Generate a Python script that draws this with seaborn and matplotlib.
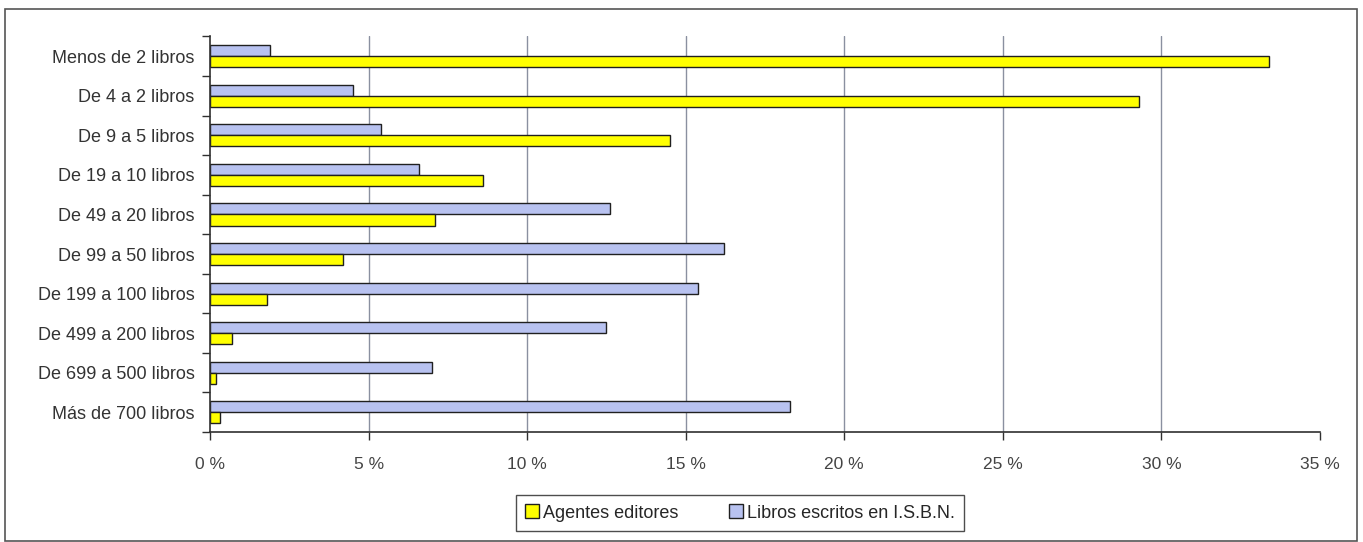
import pandas as pd
import numpy as np
import matplotlib
matplotlib.use("Agg")
import matplotlib.pyplot as plt
import seaborn as sns
from matplotlib.patches import Rectangle, Patch
from matplotlib.ticker import FixedLocator, FuncFormatter

# Datos (porcentaje)
categorias = ["Menos de 2 libros", "De 4 a 2 libros", "De 9 a 5 libros", "De 19 a 10 libros",
              "De 49 a 20 libros", "De 99 a 50 libros", "De 199 a 100 libros",
              "De 499 a 200 libros", "De 699 a 500 libros", "Más de 700 libros"]
agentes_editores = [33.4, 29.3, 14.5, 8.6, 7.1, 4.2, 1.8, 0.7, 0.2, 0.3]
libros_isbn = [1.9, 4.5, 5.4, 6.6, 12.6, 16.2, 15.4, 12.5, 7.0, 18.3]
series = ["Agentes editores", "Libros escritos en I.S.B.N."]
ticks_x = [0, 5, 10, 15, 20, 25, 30, 35]

df = pd.DataFrame({
    "categoria": categorias * 2,
    "valor": libros_isbn + agentes_editores,
    "serie": [series[1]] * len(categorias) + [series[0]] * len(categorias),
})

sns.set_style("white")
plt.rcParams["font.family"] = ["Liberation Sans", "DejaVu Sans"]

colores = {series[0]: "#ffff00", series[1]: "#b8c2f0"}

fig = plt.figure(figsize=(13.63, 5.42), dpi=100)
ax = fig.add_axes([210 / 1363, 1 - 432 / 542, 1110 / 1363, 395.5 / 542])

sns.barplot(data=df, y="categoria", x="valor", hue="serie", orient="h",
            hue_order=[series[1], series[0]], palette=colores, width=0.56,
            edgecolor="#202020", linewidth=1.0, saturation=1, ax=ax, legend=False)

ax.set_xlim(0, 35)
ax.set_ylim(len(categorias) - 0.5, -0.5)
ax.xaxis.set_major_locator(FixedLocator(ticks_x))
ax.xaxis.set_major_formatter(FuncFormatter(lambda v, p: f"{v:.0f} %"))
ax.grid(axis="x", color="#8a90a0", linewidth=1.0)
ax.set_axisbelow(True)
ax.set_xlabel("")
ax.set_ylabel("")
# sin linea de rejilla en el 0 % ni en el 35 %
gl = ax.get_xgridlines()
gl[0].set_visible(False)
gl[-1].set_visible(False)

for s in ["top", "right"]:
    ax.spines[s].set_visible(False)
for s in ["left", "bottom"]:
    ax.spines[s].set_color("#303030")
    ax.spines[s].set_linewidth(1.2)

# Marcas del eje y entre categorias
ax.yaxis.set_minor_locator(FixedLocator(np.arange(-0.5, len(categorias), 1)))
ax.tick_params(axis="y", which="major", length=0, labelsize=13, colors="#333333", pad=11)
ax.tick_params(axis="y", which="minor", length=6, width=1.0, color="#303030", left=True)
ax.tick_params(axis="x", which="major", length=6, width=1.0, color="#303030", labelsize=12.5,
               labelcolor="#444444", pad=12, bottom=True)

handles = [Patch(facecolor=colores[s], edgecolor="#202020", label=s) for s in series]
leg = fig.legend(handles=handles, loc="center", bbox_to_anchor=(740 / 1363, 1 - 513 / 542),
                 ncol=2, frameon=True, fancybox=False, edgecolor="#202020", fontsize=13,
                 handlelength=0.8, handleheight=0.8, handletextpad=0.2, columnspacing=2.8,
                 borderpad=0.5)
leg.get_frame().set_linewidth(1.0)

fig.patches.append(Rectangle((5 / 1363, 1 / 542), 1352 / 1363, 532 / 542, transform=fig.transFigure,
                             fill=False, edgecolor="#555555", linewidth=1.2))

fig.savefig("out.png", dpi=100, facecolor="white")
